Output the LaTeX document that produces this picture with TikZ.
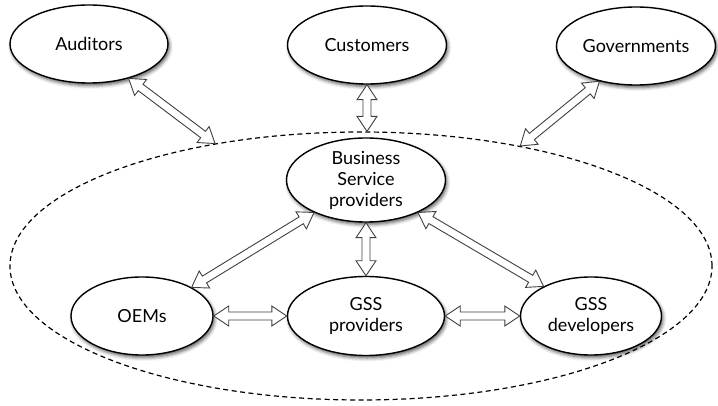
\documentclass[tikz,border=0pt]{standalone}
\usepackage{fontspec}
\setmainfont{Lato}
\usetikzlibrary{calc,shapes.geometric,shadows.blur}

% Dimensions of the hollow double-headed block arrows
\newcommand{\arrowheadlen}{15pt}
\newcommand{\arrowheadhalf}{10pt}
\newcommand{\arrowshafthalf}{4pt}

% Hollow double-headed arrow from point #1 to point #2
\newcommand{\hollowarrow}[2]{%
  \draw[blockarrow]
    (#1)
    -- ($(#1)!\arrowheadlen!(#2)!\arrowheadhalf!90:(#2)$)
    -- ($(#1)!\arrowheadlen!(#2)!\arrowshafthalf!90:(#2)$)
    -- ($(#2)!\arrowheadlen!(#1)!\arrowshafthalf!-90:(#1)$)
    -- ($(#2)!\arrowheadlen!(#1)!\arrowheadhalf!-90:(#1)$)
    -- (#2)
    -- ($(#2)!\arrowheadlen!(#1)!\arrowheadhalf!90:(#1)$)
    -- ($(#2)!\arrowheadlen!(#1)!\arrowshafthalf!90:(#1)$)
    -- ($(#1)!\arrowheadlen!(#2)!\arrowshafthalf!-90:(#2)$)
    -- ($(#1)!\arrowheadlen!(#2)!\arrowheadhalf!-90:(#2)$)
    -- cycle;}

\tikzset{
  actor/.style={ellipse, draw=black, line width=1.4pt, fill=white,
    inner sep=0pt, align=center, text=black,
    font=\fontsize{18}{21}\selectfont,
    blur shadow={shadow xshift=1.5pt, shadow yshift=-2.5pt,
      shadow blur radius=3.5pt, shadow opacity=65}},
  realmline/.style={ellipse, draw=black, line width=1.2pt,
    dash pattern=on 5pt off 3.5pt, inner sep=0pt},
  blockarrow/.style={draw=black!75, line width=0.9pt, fill=white,
    line join=miter},
}

\begin{document}
\begin{tikzpicture}[x=1pt, y=-1pt]
  \useasboundingbox (0,0) rectangle (718,406);

  % Dashed boundary of the service ecosystem
  \node[realmline, minimum width=702pt, minimum height=268pt] (realm) at (361,266) {};

  % Outside stakeholders
  \node[actor, minimum width=158pt, minimum height=78pt] (aud) at (89,44) {Auditors};
  \node[actor, minimum width=159pt, minimum height=78pt] (cust) at (367,45) {Customers};
  \node[actor, minimum width=159pt, minimum height=78pt] (gov) at (636,46) {Governments};

  % Stakeholders inside the ecosystem
  \node[actor, minimum width=159pt, minimum height=84pt] (bsp) at (366,180) {Business\\Service\\providers};
  \node[actor, minimum width=142pt, minimum height=78pt] (oem) at (142,316) {OEMs};
  \node[actor, minimum width=157pt, minimum height=79pt] (prov) at (366,316) {GSS\\providers};
  \node[actor, minimum width=141pt, minimum height=78pt] (dev) at (591,316) {GSS\\developers};

  % Interactions
  \coordinate (custin) at (cust.south |- realm.north);
  \hollowarrow{aud.-41}{realm.140.5}
  \hollowarrow{cust.south}{custin}
  \hollowarrow{gov.-136.5}{realm.37.9}
  \hollowarrow{bsp.212}{oem.30}
  \hollowarrow{bsp.south}{prov.north}
  \hollowarrow{bsp.-32}{dev.148}
  \hollowarrow{oem.east}{prov.west}
  \hollowarrow{prov.east}{dev.west}
\end{tikzpicture}
\end{document}
